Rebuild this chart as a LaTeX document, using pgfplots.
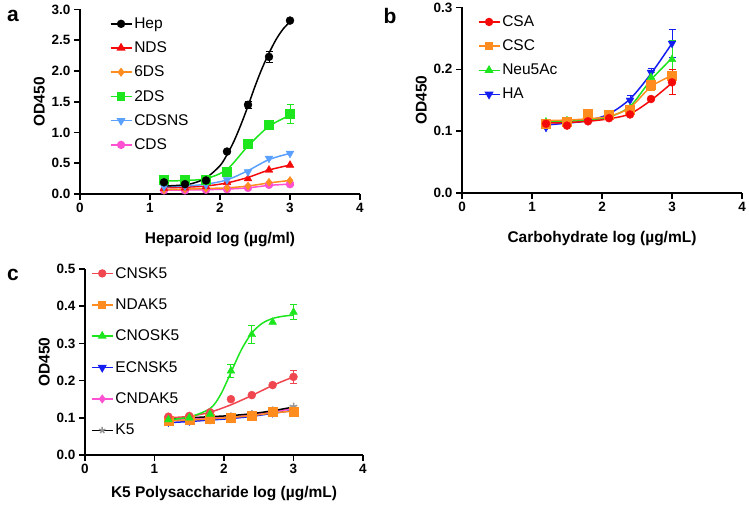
\documentclass[border=0pt]{standalone}
\usepackage{fontspec}
\setmainfont{Liberation Sans}
\usepackage{pgfplots}
\pgfplotsset{compat=1.18}
\definecolor{cred}{RGB}{245,10,10}
\definecolor{corange}{RGB}{255,140,30}
\definecolor{cgreen}{RGB}{30,230,30}
\definecolor{clblue}{RGB}{90,160,255}
\definecolor{cpink}{RGB}{255,80,210}
\definecolor{cblue}{RGB}{20,30,240}
\definecolor{csalmon}{RGB}{240,70,80}
\definecolor{cgray}{RGB}{150,150,150}
\pgfplotsset{
  gp/.style={
    scale only axis,
    axis lines*=left,
    xmin=0, xmax=4, xtick={0,1,2,3,4},
    ymin=0,
    axis line style={line width=1.6pt},
    every tick/.style={line width=1.6pt, black},
    tick align=outside,
    major tick length=6pt,
    tick label style={font=\fontsize{13.5}{15}\selectfont\bfseries},
    /pgf/number format/assume math mode=true,
    yticklabel style={/pgf/number format/.cd, fixed, fixed zerofill, precision=1},
    label style={font=\fontsize{15.5}{17}\selectfont\bfseries},
    clip=false,
    legend style={draw=none, fill=none, font=\fontsize{15.5}{17}\selectfont, anchor=north west, legend cell align=left},
    legend image code/.code={\draw[mark repeat=2,mark phase=2,##1] plot coordinates {(0pt,0pt) (10.5pt,0pt) (21pt,0pt)};},
  },
  ln/.style={line width=1.5pt, smooth, forget plot},
  pt/.style={only marks, forget plot, error bars/y dir=both, error bars/y explicit,
    error bars/error bar style={line width=1pt},
    error bars/error mark options={rotate=90, mark size=3.5pt, line width=1pt}},
  li/.style={line width=1.5pt, mark size=3.4pt},
}
\begin{document}
\begin{tikzpicture}
\useasboundingbox (0,0) rectangle (749pt,511pt);
\node[font=\fontsize{21}{24}\selectfont\bfseries] at (13pt,495pt) {a};
\node[font=\fontsize{21}{24}\selectfont\bfseries] at (390pt,495pt) {b};
\node[font=\fontsize{21}{24}\selectfont\bfseries] at (13pt,236pt) {c};
% ---------------- panel a
\begin{axis}[gp, at={(80pt,317pt)}, anchor=south west, width=280pt, height=184.5pt,
  ymax=3, ytick={0,0.5,1,1.5,2,2.5,3},
  xlabel={Heparoid log (µg/ml)}, ylabel={OD450},
  xlabel style={yshift=-12pt},
  legend style={at={(axis description cs:0.095,0.978)}, row sep=7.9pt}]
\addlegendimage{black, li, mark=*}
\addlegendentry{Hep}
\addlegendimage{cred, li, mark=triangle*, mark size=3.8pt}
\addlegendentry{NDS}
\addlegendimage{corange, li, mark=diamond*}
\addlegendentry{6DS}
\addlegendimage{cgreen, li, mark=square*}
\addlegendentry{2DS}
\addlegendimage{clblue, li, mark=triangle*, mark size=3.8pt, mark options={rotate=180}}
\addlegendentry{CDSNS}
\addlegendimage{cpink, li, mark=*}
\addlegendentry{CDS}
% CDS
\addplot[cpink, ln] coordinates {(1.2,0.06) (1.5,0.065) (1.8,0.07) (2.1,0.08) (2.4,0.10) (2.7,0.14) (3.0,0.16)};
\addplot[cpink, pt, mark=*, mark size=4pt] coordinates {(1.2,0.06) (1.5,0.06) (1.8,0.07) (2.1,0.08) (2.4,0.10) (2.7,0.15) (3.0,0.16) +- (0,0.02)};
% 6DS
\addplot[corange, ln] coordinates {(1.2,0.07) (1.5,0.08) (1.8,0.09) (2.1,0.10) (2.4,0.13) (2.7,0.18) (3.0,0.22)};
\addplot[corange, pt, mark=diamond*, mark size=4pt] coordinates {(1.2,0.07) (1.5,0.08) (1.8,0.09) (2.1,0.10) (2.4,0.13) (2.7,0.19) (3.0,0.22)};
% NDS
\addplot[cred, ln] coordinates {(1.2,0.10) (1.5,0.11) (1.8,0.13) (2.1,0.18) (2.4,0.27) (2.7,0.39) (3.0,0.47)};
\addplot[cred, pt, mark=triangle*, mark size=4.5pt] coordinates {(1.2,0.09) (1.5,0.10) (1.8,0.12) (2.1,0.19) (2.4,0.25) (2.7,0.39) (3.0,0.47)};
% CDSNS
\addplot[clblue, ln] coordinates {(1.2,0.12) (1.5,0.13) (1.8,0.16) (2.1,0.23) (2.4,0.38) (2.7,0.56) (3.0,0.66)};
\addplot[clblue, pt, mark=triangle*, mark size=4.5pt, mark options={rotate=180}] coordinates {(1.2,0.12) (1.5,0.13) (1.8,0.15) (2.1,0.23) (2.4,0.36) (2.7,0.58) (3.0,0.66)};
% 2DS
\addplot[cgreen, ln] coordinates {(1.2,0.21) (1.5,0.22) (1.8,0.25) (2.1,0.40) (2.4,0.78) (2.7,1.10) (3.0,1.28)};
\addplot[cgreen, pt, mark=square*, mark size=4.5pt] coordinates {(1.2,0.23) (1.5,0.23) (1.8,0.24) (2.1,0.37) (2.4,0.81) (2.7,1.12) (3.0,1.30) +- (0,0.16)};
% Hep
\addplot[black, ln] coordinates {(1.2,0.13) (1.4,0.14) (1.6,0.17) (1.8,0.26) (2.0,0.46) (2.1,0.64) (2.2,0.86) (2.3,1.13) (2.4,1.43) (2.5,1.75) (2.6,2.04) (2.7,2.29) (2.8,2.51) (2.9,2.68) (3.0,2.80)};
\addplot[black, pt, mark=*, mark size=4pt] coordinates {(1.2,0.19) (1.5,0.16) (1.8,0.22) (2.1,0.69) (2.4,1.45) +- (0,0.06) (2.7,2.23) +- (0,0.09) (3.0,2.82)};
\end{axis}
% ---------------- panel b
\begin{axis}[gp, at={(462pt,318pt)}, anchor=south west, width=280pt, height=185.5pt,
  ymax=0.3, ytick={0,0.1,0.2,0.3},
  xlabel={Carbohydrate log (µg/mL)}, ylabel={OD450},
  xlabel style={yshift=-12pt},
  legend style={at={(axis description cs:0.045,0.978)}, row sep=7.9pt}]
\addlegendimage{cred, li, mark=*}
\addlegendentry{CSA}
\addlegendimage{corange, li, mark=square*}
\addlegendentry{CSC}
\addlegendimage{cgreen, li, mark=triangle*, mark size=3.8pt}
\addlegendentry{Neu5Ac}
\addlegendimage{cblue, li, mark=triangle*, mark size=3.8pt, mark options={rotate=180}}
\addlegendentry{HA}
% HA
\addplot[cblue, ln] coordinates {(1.2,0.110) (1.5,0.113) (1.8,0.117) (2.1,0.128) (2.4,0.152) (2.7,0.193) (3.0,0.242)};
\addplot[cblue, pt, mark=triangle*, mark size=4.5pt, mark options={rotate=180}] coordinates {(1.2,0.106) (1.5,0.115) (1.8,0.117) (2.1,0.130) (2.4,0.150) +- (0,0.008) (2.7,0.195) +- (0,0.007) (3.0,0.242) +- (0,0.023)};
% Neu5Ac
\addplot[cgreen, ln] coordinates {(1.2,0.115) (1.5,0.116) (1.8,0.118) (2.1,0.123) (2.4,0.140) (2.7,0.183) (3.0,0.218)};
\addplot[cgreen, pt, mark=triangle*, mark size=4.5pt] coordinates {(1.2,0.115) (1.5,0.117) (1.8,0.118) (2.1,0.123) (2.4,0.137) (2.7,0.187) +- (0,0.008) (3.0,0.216) +- (0,0.03)};
% CSC
\addplot[corange, ln] coordinates {(1.2,0.117) (1.5,0.118) (1.8,0.120) (2.1,0.124) (2.4,0.138) (2.7,0.172) (3.0,0.190)};
\addplot[corange, pt, mark=square*, mark size=4.5pt] coordinates {(1.2,0.112) (1.5,0.115) (1.8,0.128) (2.1,0.127) (2.4,0.134) (2.7,0.175) +- (0,0.01) (3.0,0.190) +- (0,0.009)};
% CSA
\addplot[cred, ln] coordinates {(1.2,0.113) (1.5,0.114) (1.8,0.116) (2.1,0.120) (2.4,0.128) (2.7,0.150) (3.0,0.178)};
\addplot[cred, pt, mark=*, mark size=4pt] coordinates {(1.2,0.112) (1.5,0.109) (1.8,0.116) (2.1,0.121) (2.4,0.127) (2.7,0.152) (3.0,0.179) +- (0,0.02)};
\end{axis}
% ---------------- panel c
\begin{axis}[gp, at={(85pt,56pt)}, anchor=south west, width=278pt, height=186pt,
  ymax=0.5, ytick={0,0.1,0.2,0.3,0.4,0.5},
  xlabel={K5 Polysaccharide log (µg/mL)}, ylabel={OD450},
  xlabel style={yshift=-5pt},
  legend style={at={(axis description cs:0.01,1.032)}, row sep=15.1pt}]
\addlegendimage{csalmon, li, mark=*}
\addlegendentry{CNSK5}
\addlegendimage{corange, li, mark=square*}
\addlegendentry{NDAK5}
\addlegendimage{cgreen, li, mark=triangle*, mark size=3.8pt}
\addlegendentry{CNOSK5}
\addlegendimage{cblue, li, mark=triangle*, mark size=3.8pt, mark options={rotate=180}}
\addlegendentry{ECNSK5}
\addlegendimage{cpink, li, mark=diamond*}
\addlegendentry{CNDAK5}
\addlegendimage{black, li, mark=star, mark options={cgray, line width=1.5pt}}
\addlegendentry{K5}
% ECNSK5
\addplot[cblue, ln] coordinates {(1.2,0.087) (1.5,0.090) (1.8,0.094) (2.1,0.098) (2.4,0.104) (2.7,0.112) (3.0,0.120)};
\addplot[cblue, pt, mark=triangle*, mark size=4pt, mark options={rotate=180}] coordinates {(1.2,0.087) (1.5,0.090) (1.8,0.094) (2.1,0.098) (2.4,0.104) (2.7,0.112) (3.0,0.120)};
% CNDAK5
\addplot[cpink, ln] coordinates {(1.2,0.092) (1.5,0.096) (1.8,0.099) (2.1,0.102) (2.4,0.108) (2.7,0.117) (3.0,0.124)};
\addplot[cpink, pt, mark=diamond*, mark size=4pt] coordinates {(1.2,0.092) (1.5,0.096) (1.8,0.099) (2.1,0.102) (2.4,0.108) (2.7,0.118) (3.0,0.124)};
% K5
\addplot[black, ln] coordinates {(1.2,0.097) (1.5,0.100) (1.8,0.103) (2.1,0.106) (2.4,0.111) (2.7,0.119) (3.0,0.129)};
\addplot[cgray, pt, mark=star, mark size=4pt, mark options={line width=1.5pt}] coordinates {(1.2,0.098) (1.5,0.104) (1.8,0.103) (2.1,0.104) (2.4,0.110) (2.7,0.120) (3.0,0.130)};
% NDAK5
\addplot[corange, ln] coordinates {(1.2,0.092) (1.5,0.094) (1.8,0.097) (2.1,0.101) (2.4,0.106) (2.7,0.113) (3.0,0.118)};
\addplot[corange, pt, mark=square*, mark size=4.5pt] coordinates {(1.2,0.092) (1.5,0.094) (1.8,0.097) (2.1,0.101) (2.4,0.106) +- (0,0.006) (2.7,0.116) +- (0,0.01) (3.0,0.116) +- (0,0.005)};
% CNSK5
\addplot[csalmon, ln] coordinates {(1.2,0.100) (1.5,0.104) (1.8,0.115) (2.1,0.135) (2.4,0.160) (2.7,0.187) (3.0,0.210)};
\addplot[csalmon, pt, mark=*, mark size=4pt] coordinates {(1.2,0.103) (1.5,0.105) (1.8,0.115) (2.1,0.150) (2.4,0.161) (2.7,0.188) (3.0,0.210) +- (0,0.018)};
% CNOSK5
\addplot[cgreen, ln] coordinates {(1.2,0.095) (1.5,0.102) (1.8,0.125) (1.95,0.162) (2.1,0.222) (2.25,0.283) (2.4,0.328) (2.55,0.354) (2.7,0.367) (2.85,0.373) (3.0,0.376)};
\addplot[cgreen, pt, mark=triangle*, mark size=4.5pt] coordinates {(1.2,0.095) (1.5,0.100) (1.8,0.110) (2.1,0.226) +- (0,0.017) (2.4,0.324) +- (0,0.025) (2.7,0.357) (3.0,0.384) +- (0,0.02)};
\end{axis}
\end{tikzpicture}
\end{document}
